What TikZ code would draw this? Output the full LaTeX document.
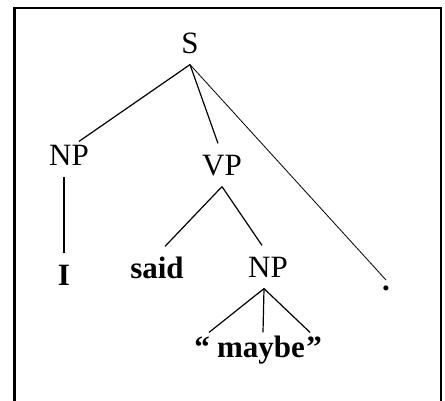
\documentclass[tikz,border=0pt]{standalone}
\usepackage{fontspec}
\setmainfont{Liberation Serif}
\usepackage{tikz}

\begin{document}
\begin{tikzpicture}[x=1pt, y=-1pt, line width=1.2pt,
        cat/.style={anchor=base, inner xsep=0pt, inner ysep=11pt,
                text height=20pt, text depth=0pt,
                font=\fontsize{31}{37}\selectfont},
        word/.style={cat, font=\fontsize{31}{37}\selectfont\bfseries}]
        \useasboundingbox (0,0) rectangle (445,400);
        \draw[line width=2.7pt] (14.5,8) rectangle (441,420);

        \node[cat] (S) at (190,53) {S};
        \node[cat] (np1) at (69,165) {NP};
        \node[cat] (vp) at (222,175) {VP};
        \node[word] (i) at (64,285) {I};
        \node[word] (said) at (157,278) {said};
        \node[cat] (np2) at (268,277) {NP};
        \node[word] (dot) at (386,290) {.};
        \node[word, inner ysep=4pt] (lq) at (202,357) {``};
        \node[word, inner ysep=4pt] (maybe) at (261,357) {maybe};
        \node[word, inner ysep=4pt] (rq) at (314,357) {''};

        \draw (S.south) -- ([xshift=10pt, yshift=-8pt]np1.north);
        \draw (S.south) -- ([xshift=-4pt]vp.north);
        \draw[line width=0.8pt] (S.south) -- (dot.center);
        \draw (i.north) -- (i.north |- np1.south);
        \draw (vp.south) -- ([xshift=8pt]said.north);
        \draw (vp.south) -- ([xshift=-6pt]np2.north);
        \draw ([xshift=-4pt]np2.south) -- ([xshift=7pt]lq.north);
        \draw ([xshift=-4pt]np2.south) -- ([xshift=2pt]maybe.north);
        \draw ([xshift=-4pt]np2.south) -- ([xshift=-4pt]rq.north);
\end{tikzpicture}
\end{document}
